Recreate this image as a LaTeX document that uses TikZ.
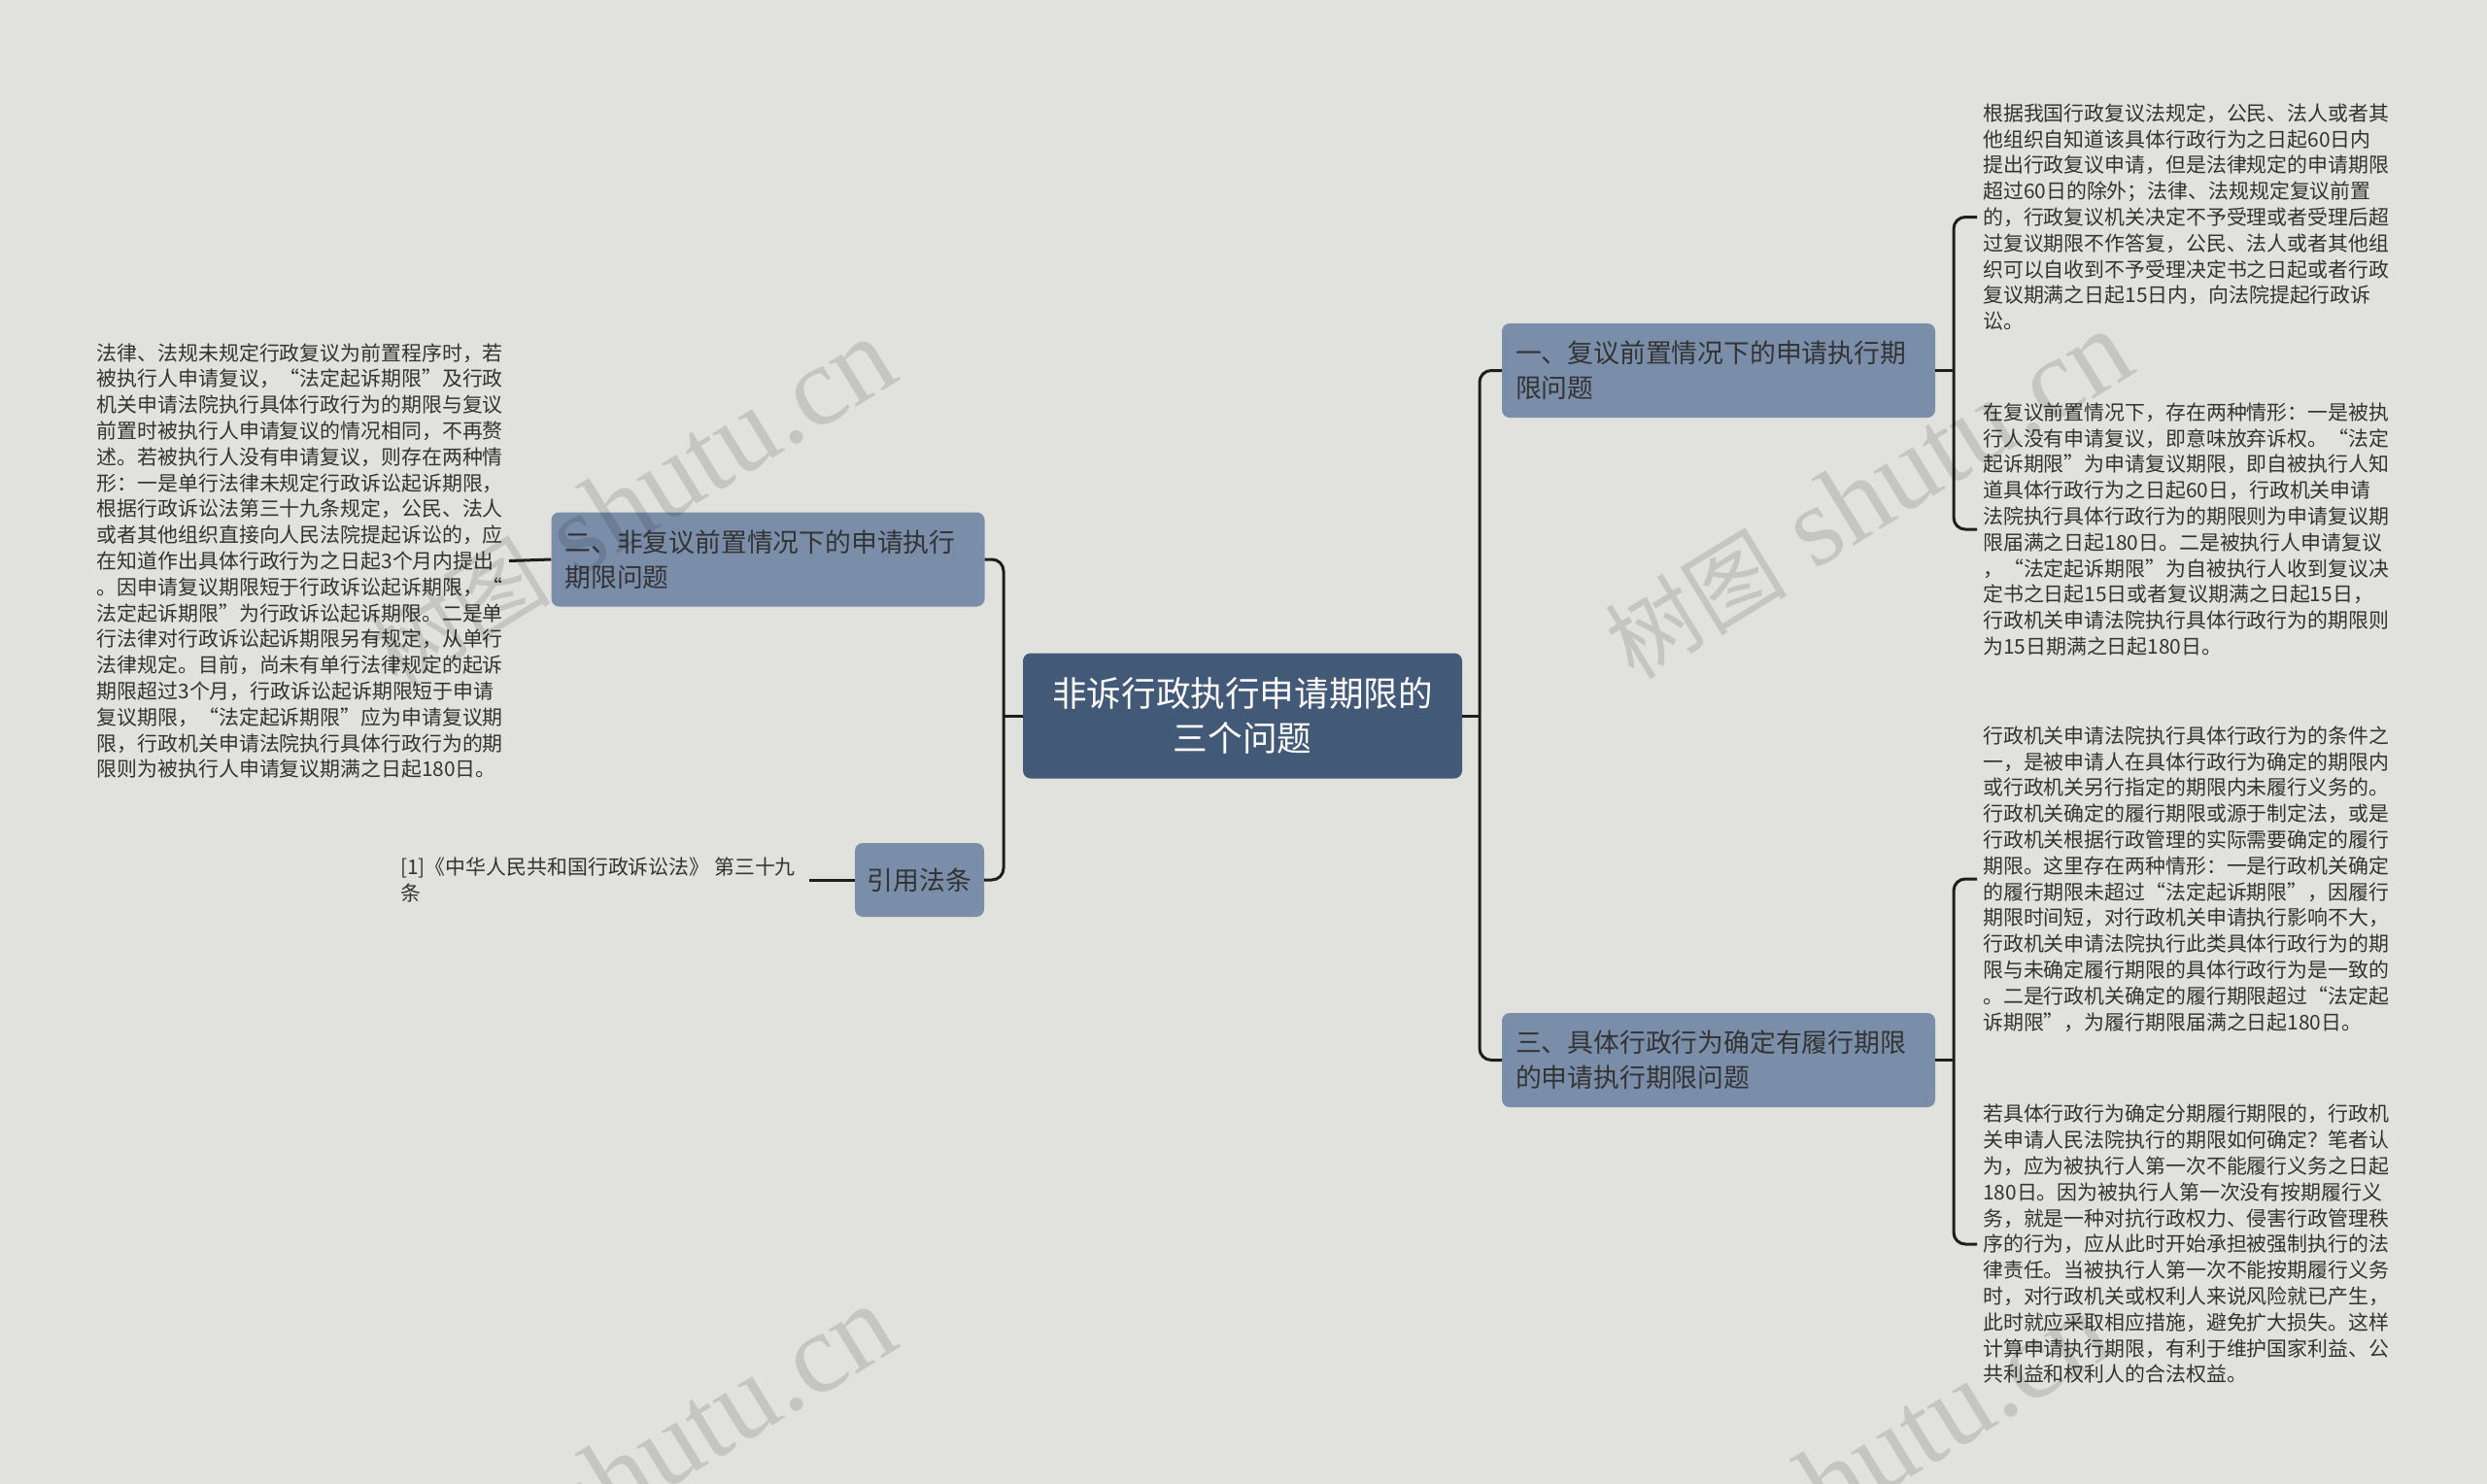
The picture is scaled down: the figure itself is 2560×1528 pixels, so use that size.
\documentclass[tikz,border=0pt]{standalone}
\usepackage{fontspec}
\setmainfont{Noto Sans CJK SC}
\newfontfamily\cjk{Noto Sans CJK SC}
\newfontfamily\wmfont{Liberation Serif}
\definecolor{bgc}{HTML}{E1E2DD}
\definecolor{rootc}{HTML}{435978}
\definecolor{lvc}{HTML}{7A8EAA}
\definecolor{linec}{HTML}{1E1E1E}
\definecolor{txc}{HTML}{333333}
\tikzset{
  rootbox/.style={fill=rootc, rounded corners=8pt, text=white, align=center,
    minimum width=452pt, minimum height=129pt, inner sep=0pt,
    font=\fontsize{35.6}{46}\selectfont},
  lvbox/.style={fill=lvc, rounded corners=8pt, text=txc, align=left,
    text width=418pt, minimum height=97pt, inner xsep=14pt, inner ysep=0pt,
    font=\fontsize{26.8}{36}\selectfont},
  smallbox/.style={fill=lvc, rounded corners=8pt, text=txc, align=center,
    minimum width=133pt, minimum height=76pt, inner sep=0pt,
    font=\fontsize{26.8}{36}\selectfont},
  leaf/.style={text=txc, align=left, inner xsep=6pt, inner ysep=0pt,
    font=\fontsize{20.9}{26.8}\selectfont},
  conn/.style={draw=linec, line width=3pt, rounded corners=12pt},
  wm/.style={text=black, text opacity=0.12, rotate=31.6,
    font=\wmfont\fontsize{117}{117}\selectfont}
}
\newcommand{\wmtext}{{\cjk\fontsize{94}{94}\selectfont 树图} shutu.cn}
\begin{document}
\begin{tikzpicture}[x=1pt,y=-1pt]
\useasboundingbox[fill=bgc] (0,0) rectangle (2560,1528);

% nodes
\node[rootbox] (c) at (1279,737) {非诉行政执行申请期限的\\三个问题};
\node[lvbox] (n1) at (1769,381.5) {一、复议前置情况下的申请执行期\\限问题};
\node[lvbox] (n3) at (1769,1091.5) {三、具体行政行为确定有履行期限\\的申请执行期限问题};
\node[lvbox] (n2) at (790.5,576) {二、非复议前置情况下的申请执行\\期限问题};
\node[smallbox] (ref) at (946.5,906) {引用法条};

\node[leaf, anchor=west] (t1) at (2035,223.5) {根据我国行政复议法规定，公民、法人或者其\\
他组织自知道该具体行政行为之日起60日内\\
提出行政复议申请，但是法律规定的申请期限\\
超过60日的除外；法律、法规规定复议前置\\
的，行政复议机关决定不予受理或者受理后超\\
过复议期限不作答复，公民、法人或者其他组\\
织可以自收到不予受理决定书之日起或者行政\\
复议期满之日起15日内，向法院提起行政诉\\
讼。};

\node[leaf, anchor=west] (t2) at (2035,545) {在复议前置情况下，存在两种情形：一是被执\\
行人没有申请复议，即意味放弃诉权。“法定\\
起诉期限”为申请复议期限，即自被执行人知\\
道具体行政行为之日起60日，行政机关申请\\
法院执行具体行政行为的期限则为申请复议期\\
限届满之日起180日。二是被执行人申请复议\\
，“法定起诉期限”为自被执行人收到复议决\\
定书之日起15日或者复议期满之日起15日，\\
行政机关申请法院执行具体行政行为的期限则\\
为15日期满之日起180日。};

\node[leaf, anchor=west] (t3) at (2035,905) {行政机关申请法院执行具体行政行为的条件之\\
一，是被申请人在具体行政行为确定的期限内\\
或行政机关另行指定的期限内未履行义务的。\\
行政机关确定的履行期限或源于制定法，或是\\
行政机关根据行政管理的实际需要确定的履行\\
期限。这里存在两种情形：一是行政机关确定\\
的履行期限未超过“法定起诉期限”，因履行\\
期限时间短，对行政机关申请执行影响不大，\\
行政机关申请法院执行此类具体行政行为的期\\
限与未确定履行期限的具体行政行为是一致的\\
。二是行政机关确定的履行期限超过“法定起\\
诉期限”，为履行期限届满之日起180日。};

\node[leaf, anchor=west] (t4) at (2035,1281) {若具体行政行为确定分期履行期限的，行政机\\
关申请人民法院执行的期限如何确定？笔者认\\
为，应为被执行人第一次不能履行义务之日起\\
180日。因为被执行人第一次没有按期履行义\\
务，就是一种对抗行政权力、侵害行政管理秩\\
序的行为，应从此时开始承担被强制执行的法\\
律责任。当被执行人第一次不能按期履行义务\\
时，对行政机关或权利人来说风险就已产生，\\
此时就应采取相应措施，避免扩大损失。这样\\
计算申请执行期限，有利于维护国家利益、公\\
共利益和权利人的合法权益。};

\node[leaf, anchor=east] (tl) at (524,577.5) {法律、法规未规定行政复议为前置程序时，若\\
被执行人申请复议，“法定起诉期限”及行政\\
机关申请法院执行具体行政行为的期限与复议\\
前置时被执行人申请复议的情况相同，不再赘\\
述。若被执行人没有申请复议，则存在两种情\\
形：一是单行法律未规定行政诉讼起诉期限，\\
根据行政诉讼法第三十九条规定，公民、法人\\
或者其他组织直接向人民法院提起诉讼的，应\\
在知道作出具体行政行为之日起3个月内提出\\
。因申请复议期限短于行政诉讼起诉期限，“\\
法定起诉期限”为行政诉讼起诉期限。二是单\\
行法律对行政诉讼起诉期限另有规定，从单行\\
法律规定。目前，尚未有单行法律规定的起诉\\
期限超过3个月，行政诉讼起诉期限短于申请\\
复议期限，“法定起诉期限”应为申请复议期\\
限，行政机关申请法院执行具体行政行为的期\\
限则为被执行人申请复议期满之日起180日。};

\node[leaf, anchor=west, inner xsep=14pt] (tr) at (398,906) {[1]《中华人民共和国行政诉讼法》 第三十九\\条};

% junction coordinates
\coordinate (rj) at (1523,737);
\coordinate (lj) at (1033,737);
\coordinate (rb1) at (2011,381.5);
\coordinate (rb3) at (2011,1091.5);

% connectors
\draw[conn] (c.east) -- (rj);
\draw[conn] (n1.west) -| (rj) |- (n3.west);
\draw[conn] (c.west) -- (lj);
\draw[conn] (n2.east) -| (lj) |- (ref.east);
\draw[conn] (n1.east) -- (rb1);
\draw[conn] (t1.west) -| (rb1) |- (t2.west);
\draw[conn] (n3.east) -- (rb3);
\draw[conn] (t3.west) -| (rb3) |- (t4.west);
\draw[conn] (tl.east) -- (n2.west);
\draw[conn] (tr.east) -- (ref.west);

% watermarks
\node[wm] (w1) at (650,518) {\wmtext};
\node[wm] (w2) at (1923,510) {\wmtext};
\node[wm] (w3) at (650,1514) {\wmtext};
\node[wm] (w4) at (1900,1520) {\wmtext};
\end{tikzpicture}
\end{document}
